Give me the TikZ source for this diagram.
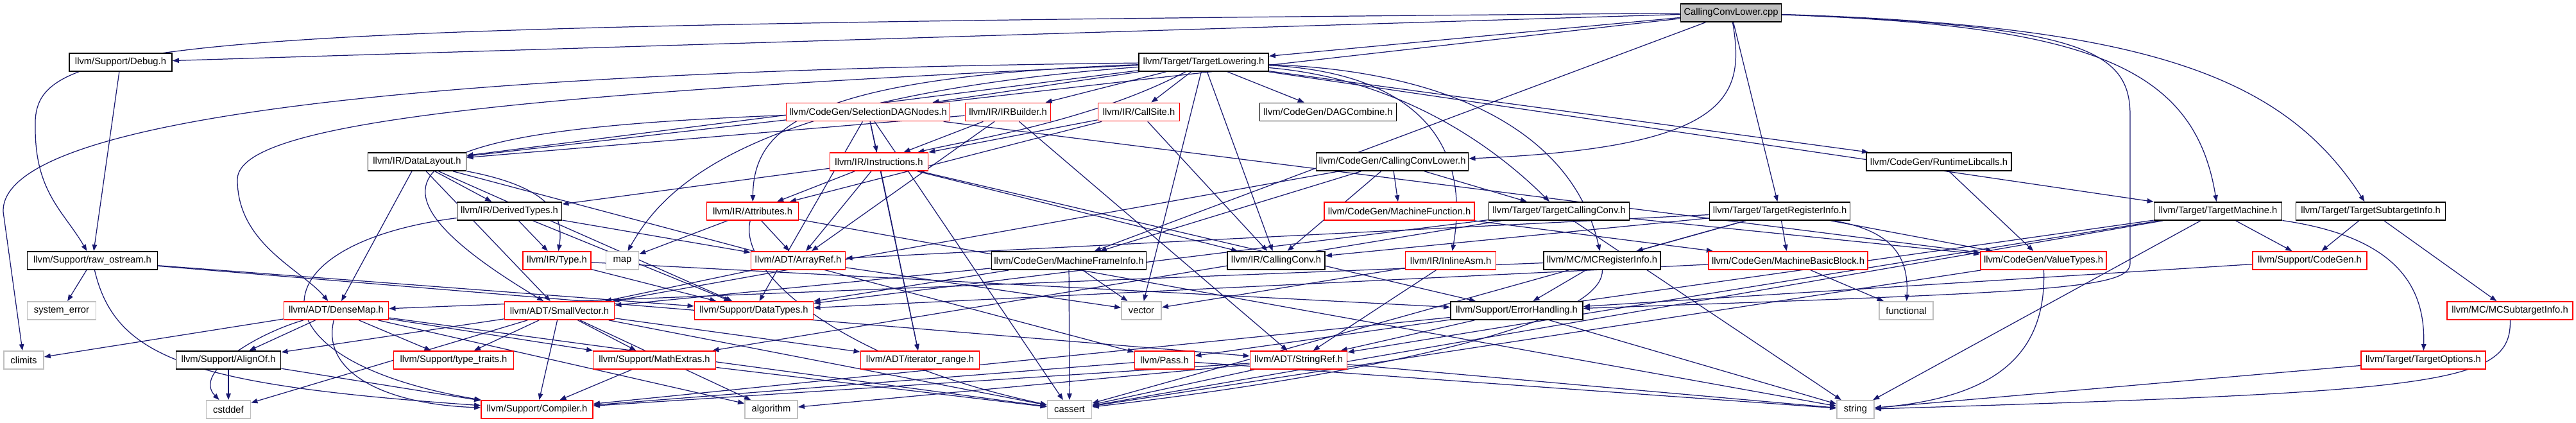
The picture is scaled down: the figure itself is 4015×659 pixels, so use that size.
\documentclass[tikz,border=0pt]{standalone}
\usepackage{fontspec}
\setmainfont{Liberation Sans}
\usetikzlibrary{arrows.meta,backgrounds}
\definecolor{edgeblue}{HTML}{191970}
\definecolor{sysgray}{HTML}{BFBFBF}
\tikzset{
  hdr/.style={draw=black, fill=white, line width=0.5pt, minimum height=0.28cm, inner sep=0pt, font=\fontsize{4.2}{5}\selectfont},
  trunc/.style={hdr, draw=red},
  sys/.style={hdr, draw=sysgray},
  root/.style={hdr, fill=sysgray},
  dep/.style={draw=edgeblue, line width=0.35pt, -{Triangle[length=0.1cm,width=0.075cm]}}
}
\begin{document}
\begin{tikzpicture}[x=0.01cm, y=-0.01cm]
\useasboundingbox (0,0) rectangle (4015,659);

% top rows
\node[root, minimum width=1.57cm] (ccl) at (2698,20) {CallingConvLower.cpp};
\node[hdr, minimum width=1.60cm] (dbg) at (188,97) {llvm/Support/Debug.h};
\node[hdr, minimum width=2.02cm] (tlow) at (1876,97) {llvm/Target/TargetLowering.h};

\node[trunc, minimum width=2.55cm] (sdag) at (1353,174.5) {llvm/CodeGen/SelectionDAGNodes.h};
\node[trunc, minimum width=1.33cm] (irb) at (1571,174.5) {llvm/IR/IRBuilder.h};
\node[trunc, minimum width=1.27cm] (csite) at (1775,174.5) {llvm/IR/CallSite.h};
\node[hdr, minimum width=2.13cm] (dagc) at (2070,174.5) {llvm/CodeGen/DAGCombine.h};

\node[hdr, minimum width=1.53cm] (dl) at (650,252) {llvm/IR/DataLayout.h};
\node[trunc, minimum width=1.53cm] (inst) at (1370,252) {llvm/IR/Instructions.h};
\node[hdr, minimum width=2.37cm] (cclh) at (2170,252) {llvm/CodeGen/CallingConvLower.h};
\node[hdr, minimum width=2.26cm] (rtlib) at (3022,252) {llvm/CodeGen/RuntimeLibcalls.h};

\node[hdr, minimum width=1.63cm] (dtypes) at (794,329) {llvm/IR/DerivedTypes.h};
\node[trunc, minimum width=1.43cm] (attr) at (1173,329) {llvm/IR/Attributes.h};
\node[trunc, minimum width=2.34cm] (mf) at (2181,329) {llvm/CodeGen/MachineFunction.h};
\node[hdr, minimum width=2.19cm] (tcc) at (2430,329) {llvm/Target/TargetCallingConv.h};
\node[hdr, minimum width=2.19cm] (tri) at (2774,329) {llvm/Target/TargetRegisterInfo.h};
\node[hdr, minimum width=1.99cm] (tm) at (3457,329) {llvm/Target/TargetMachine.h};
\node[hdr, minimum width=2.33cm] (tsi) at (3695,329) {llvm/Target/TargetSubtargetInfo.h};

% middle rows
\node[hdr, minimum width=2.03cm] (raw) at (144,406) {llvm/Support/raw\_ostream.h};
\node[trunc, minimum width=1.06cm] (type) at (868,406) {llvm/IR/Type.h};
\node[sys, minimum width=0.51cm] (map) at (970,406) {map};
\node[trunc, minimum width=1.47cm] (aref) at (1244,406) {llvm/ADT/ArrayRef.h};
\node[hdr, minimum width=2.41cm] (mfi) at (1666,406) {llvm/CodeGen/MachineFrameInfo.h};
\node[hdr, minimum width=1.52cm] (cc) at (1989,406) {llvm/IR/CallingConv.h};
\node[trunc, minimum width=1.41cm] (iasm) at (2261,406) {llvm/IR/InlineAsm.h};
\node[hdr, minimum width=1.82cm] (mcri) at (2497,406) {llvm/MC/MCRegisterInfo.h};
\node[trunc, minimum width=2.48cm] (mbb) at (2787,406) {llvm/CodeGen/MachineBasicBlock.h};
\node[trunc, minimum width=1.96cm] (vt) at (3185,406) {llvm/CodeGen/ValueTypes.h};
\node[trunc, minimum width=1.78cm] (scg) at (3600,406) {llvm/Support/CodeGen.h};

\node[sys, minimum width=1.07cm] (syserr) at (96,484) {system\_error};
\node[trunc, minimum width=1.63cm] (dmap) at (524,484) {llvm/ADT/DenseMap.h};
\node[trunc, minimum width=1.71cm] (svec) at (872,484) {llvm/ADT/SmallVector.h};
\node[trunc, minimum width=1.85cm] (dtyp) at (1175,484) {llvm/Support/DataTypes.h};
\node[sys, minimum width=0.62cm] (vector) at (1779,484) {vector};
\node[hdr, minimum width=2.06cm] (eh) at (2364,484) {llvm/Support/ErrorHandling.h};
\node[sys, minimum width=0.84cm] (functional) at (2971,484) {functional};
\node[trunc, minimum width=1.96cm] (mcsti) at (3912,484) {llvm/MC/MCSubtargetInfo.h};

% bottom rows
\node[sys, minimum width=0.62cm] (climits) at (37,561) {climits};
\node[hdr, minimum width=1.63cm] (align) at (356,561) {llvm/Support/AlignOf.h};
\node[trunc, minimum width=1.87cm] (tt) at (707,561) {llvm/Support/type\_traits.h};
\node[trunc, minimum width=1.91cm] (mathx) at (1020,561) {llvm/Support/MathExtras.h};
\node[trunc, minimum width=1.85cm] (itr) at (1434,561) {llvm/ADT/iterator\_range.h};
\node[trunc, minimum width=0.93cm] (pass) at (1815,561) {llvm/Pass.h};
\node[trunc, minimum width=1.51cm] (sref) at (2024,561) {llvm/ADT/StringRef.h};
\node[trunc, minimum width=1.94cm] (topt) at (3777,561) {llvm/Target/TargetOptions.h};

\node[sys, minimum width=0.69cm] (cstddef) at (356,638) {cstddef};
\node[trunc, minimum width=1.74cm] (comp) at (837,638) {llvm/Support/Compiler.h};
\node[sys, minimum width=0.82cm] (algorithm) at (1202,638) {algorithm};
\node[sys, minimum width=0.69cm] (cassert) at (1667,638) {cassert};
\node[sys, minimum width=0.58cm] (string) at (2892,638) {string};

\begin{pgfonlayer}{background}
% from the source file
\draw[dep] (ccl) .. controls (2720,150) and (2700,230) .. (cclh);
\draw[dep] (ccl) -- (mfi);
\draw[dep] (ccl) -- (dl);
\draw[dep] (ccl) -- (dbg);
\draw[dep] (ccl) .. controls (3250,40) and (3320,80) .. (3320,180) -- (3320,410) .. controls (3320,450) and (3200,455) .. (eh);
\draw[dep] (ccl) .. controls (200,40) and (50,60) .. (55,200) .. controls (55,300) and (100,330) .. (raw);
\draw[dep] (ccl) -- (tlow);
\draw[dep] (ccl) -- (tri);
\draw[dep] (ccl) .. controls (3250,40) and (3420,100) .. (tm);
\draw[dep] (ccl) .. controls (3350,40) and (3560,120) .. (tsi);
\draw[dep] (dbg) -- (raw);

\draw[dep] (tlow) -- (sdag);
\draw[dep] (tlow) -- (irb);
\draw[dep] (tlow) -- (csite);
\draw[dep] (tlow) -- (dagc);
\draw[dep] (tlow) .. controls (1700,190) and (1500,220) .. (inst);
\draw[dep] (tlow) -- (rtlib);
\draw[dep] (tlow) -- (tm);
\draw[dep] (tlow) .. controls (2150,120) and (2300,200) .. (tcc);
\draw[dep] (tlow) .. controls (2250,110) and (2450,200) .. (mcri);
\draw[dep] (tlow) .. controls (2150,110) and (2300,180) .. (iasm);
\draw[dep] (tlow) -- (cc);
\draw[dep] (tlow) .. controls (1250,120) and (1175,200) .. (attr);
\draw[dep] (tlow) .. controls (700,150) and (370,200) .. (370,280) .. controls (370,380) and (470,420) .. (dmap);
\draw[dep] (tlow) .. controls (700,110) and (0,180) .. (5,330) -- (climits);
\draw[dep] (tlow) .. controls (1150,150) and (1030,300) .. (map);
\draw[dep] (tlow) -- (vector);
\draw[dep] (tlow) -- (dl);

\draw[dep] (sdag) -- (inst);
\draw[dep] (sdag) -- (itr);
\draw[dep] (sdag) -- (cassert);
\draw[dep] (sdag) -- (vt);
\draw[dep] (sdag) .. controls (700,200) and (480,250) .. (svec);
\draw[dep] (sdag) -- (dtyp);
\draw[dep] (irb) -- (dl);
\draw[dep] (irb) -- (inst);
\draw[dep] (irb) -- (sref);
\draw[dep] (irb) -- (aref);
\draw[dep] (csite) -- (inst);
\draw[dep] (csite) -- (attr);
\draw[dep] (csite) -- (cc);

\draw[dep] (dl) -- (dtypes);
\draw[dep] (dl) .. controls (850,290) and (880,330) .. (type);
\draw[dep] (dl) -- (dmap);
\draw[dep] (dl) -- (svec);
\draw[dep] (dl) -- (pass);
\draw[dep] (dl) -- (dtyp);
\draw[dep] (inst) -- (dtypes);
\draw[dep] (inst) -- (attr);
\draw[dep] (inst) -- (aref);
\draw[dep] (inst) -- (itr);
\draw[dep] (inst) -- (cc);
\draw[dep] (inst) -- (eh);
\draw[dep] (cclh) -- (svec);
\draw[dep] (cclh) -- (mfi);
\draw[dep] (cclh) -- (mf);
\draw[dep] (cclh) -- (cc);
\draw[dep] (cclh) -- (tcc);
\draw[dep] (rtlib) -- (vt);

\draw[dep] (dtypes) -- (type);
\draw[dep] (dtypes) .. controls (400,380) and (380,560) .. (comp);
\draw[dep] (dtypes) -- (dtyp);
\draw[dep] (dtypes) -- (aref);
\draw[dep] (attr) -- (aref);
\draw[dep] (attr) -- (map);
\draw[dep] (attr) .. controls (1150,420) and (1300,560) .. (cassert);
\draw[dep] (attr) -- (string);
\draw[dep] (mf) -- (mbb);
\draw[dep] (tcc) -- (string);
\draw[dep] (tcc) -- (dtyp);
\draw[dep] (tcc) -- (mathx);
\draw[dep] (tcc) -- (vt);
\draw[dep] (tri) -- (aref);
\draw[dep] (tri) -- (mbb);
\draw[dep] (tri) -- (vt);
\draw[dep] (tri) -- (cc);
\draw[dep] (tri) -- (mcri);
\draw[dep] (tri) -- (cassert);
\draw[dep] (tri) .. controls (2950,360) and (2975,400) .. (functional);
\draw[dep] (tm) -- (sref);
\draw[dep] (tm) -- (pass);
\draw[dep] (tm) -- (scg);
\draw[dep] (tm) .. controls (3740,370) and (3780,450) .. (topt);
\draw[dep] (tm) -- (cassert);
\draw[dep] (tm) -- (string);
\draw[dep] (tsi) -- (scg);
\draw[dep] (tsi) -- (mcsti);

\draw[dep] (raw) -- (syserr);
\draw[dep] (raw) .. controls (180,560) and (300,600) .. (comp);
\draw[dep] (raw) -- (sref);
\draw[dep] (raw) -- (dtyp);
\draw[dep] (type) -- (dtyp);
\draw[dep] (type) -- (eh);
\draw[dep] (aref) -- (svec);
\draw[dep] (aref) -- (vector);
\draw[dep] (mfi) -- (svec);
\draw[dep] (mfi) -- (dtyp);
\draw[dep] (mfi) -- (cassert);
\draw[dep] (mfi) -- (vector);
\draw[dep] (iasm) -- (sref);
\draw[dep] (iasm) -- (vector);
\draw[dep] (mcri) -- (eh);
\draw[dep] (mcri) .. controls (2500,520) and (2000,600) .. (cassert);
\draw[dep] (mcri) -- (dmap);
\draw[dep] (mbb) -- (dtyp);
\draw[dep] (mbb) -- (functional);
\draw[dep] (vt) -- (cassert);
\draw[dep] (vt) .. controls (3190,560) and (3100,620) .. (string);
\draw[dep] (scg) -- (eh);

\draw[dep] (dmap) -- (climits);
\draw[dep] (dmap) .. controls (400,520) and (300,580) .. (cstddef);
\draw[dep] (dmap) -- (align);
\draw[dep] (dmap) .. controls (500,580) and (600,630) .. (comp);
\draw[dep] (dmap) -- (algorithm);
\draw[dep] (dmap) -- (cassert);
\draw[dep] (dmap) -- (tt);
\draw[dep] (dmap) -- (mathx);
\draw[dep] (svec) -- (align);
\draw[dep] (svec) -- (tt);
\draw[dep] (svec) -- (comp);
\draw[dep] (svec) -- (mathx);
\draw[dep] (svec) -- (itr);
\draw[dep] (svec) -- (algorithm);
\draw[dep] (svec) -- (cassert);
\draw[dep] (svec) -- (cstddef);
\draw[dep] (eh) -- (comp);
\draw[dep] (eh) -- (sref);
\draw[dep] (eh) -- (string);
\draw[dep] (mcsti) .. controls (3915,600) and (3800,610) .. (string);

\draw[dep] (align) -- (cstddef);
\draw[dep] (align) -- (comp);
\draw[dep] (mathx) -- (comp);
\draw[dep] (mathx) -- (cassert);
\draw[dep] (pass) -- (comp);
\draw[dep] (pass) -- (string);
\draw[dep] (sref) -- (algorithm);
\draw[dep] (sref) -- (cassert);
\draw[dep] (sref) -- (string);
\draw[dep] (sref) -- (comp);
\draw[dep] (topt) -- (string);
\end{pgfonlayer}
\end{tikzpicture}
\end{document}
